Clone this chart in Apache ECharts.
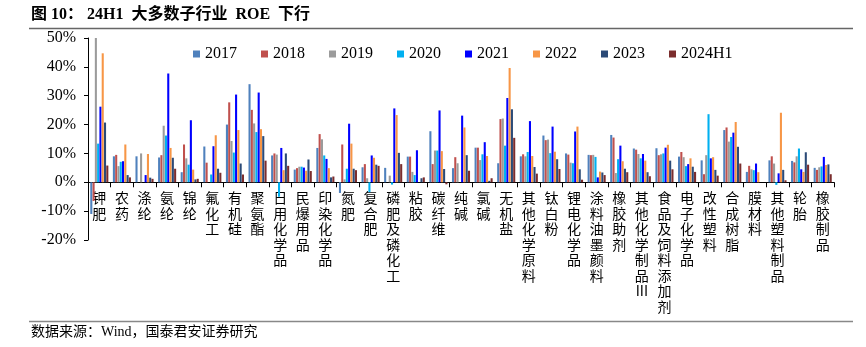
<!DOCTYPE html>
<html><head><meta charset="utf-8">
<script src="https://cdn.jsdelivr.net/npm/echarts@6/dist/echarts.min.js"></script>
<style>html,body{margin:0;padding:0;background:#fff}#c{width:866px;height:347px}</style>
</head><body><div id="c"></div>
<script>
const categories = ['钾肥','农药','涤纶','氨纶','锦纶','氟化工','有机硅','聚氨酯','日用化学品','民爆用品','印染化学品','氮肥','复合肥','磷肥及磷化工','粘胶','碳纤维','纯碱','氯碱','无机盐','其他化学原料','钛白粉','锂电化学品','涂料油墨颜料','橡胶助剂','其他化学制品III','食品及饲料添加剂','电子化学品','改性塑料','合成树脂','膜材料','其他塑料制品','轮胎','橡胶制品'];
const seriesNames = ['2017','2018','2019','2020','2021','2022','2023','2024H1'];
const s2017 = [-11.0, 9.0, 9.0, 8.6, 3.5, 12.4, 20.0, 34.0, 9.3, 4.4, 11.9, -3.7, 5.2, 5.0, 8.9, 17.7, 4.9, 12.0, 6.6, 9.0, 16.2, 10.0, 9.5, 16.4, 11.7, 11.8, 8.9, 7.6, 18.1, 3.6, 7.6, 7.4, 5.0];
const s2018 = [-6.5, 9.5, 0, 9.4, 13.1, 6.8, 27.7, 25.1, 10.0, 4.9, 16.7, 13.1, 6.3, 0, 8.9, 6.3, 8.7, 12.0, 21.9, 9.7, 14.6, 9.6, 9.4, 15.5, 11.3, 9.4, 10.5, 2.8, 19.0, 5.7, 9.0, 6.9, 4.3];
const s2019 = [50.0, 5.6, 10.0, 19.6, 8.3, 0, 14.3, 20.4, 9.6, 5.4, 14.9, 1.0, 1.4, 2.3, 3.6, 11.0, 6.6, 7.7, 22.1, 9.0, 14.8, 6.8, 9.5, 3.2, 9.8, 9.7, 8.7, 9.4, 14.1, 4.5, 6.5, 9.0, 5.2];
const s2020 = [13.4, 7.1, 0, 16.2, 6.1, 2.7, 10.3, 17.4, -5.0, 5.4, 9.3, 4.7, -3.4, -0.8, 2.5, 11.0, 0, 9.7, 12.7, 10.5, 10.1, 6.6, 8.8, 8.0, 8.3, 10.0, 5.6, 23.6, 15.7, 4.2, -0.9, 11.7, 5.5];
const s2021 = [26.2, 7.3, 2.5, 37.7, 21.5, 12.5, 30.4, 31.1, 11.9, 5.1, 8.1, 20.3, 9.3, 25.6, 11.1, 24.9, 23.1, 13.9, 29.2, 21.2, 19.3, 17.6, 1.7, 12.7, 9.8, 12.0, 6.3, 8.3, 17.2, 6.5, 3.1, 4.5, 8.8];
const s2022 = [44.7, 13.1, 9.8, 11.9, 4.4, 16.3, 18.1, 18.4, 4.2, 4.0, 4.9, 13.4, 8.5, 23.3, 0, 10.8, 19.0, 9.1, 39.6, 9.1, 10.6, 19.3, 3.7, 7.3, 7.5, 13.0, 8.3, 8.7, 20.9, 3.5, 24.1, 3.6, 6.0];
const s2023 = [20.7, 2.5, 1.6, 8.5, 1.0, 4.7, 6.5, 16.0, 10.0, 7.9, 1.7, 4.7, 6.1, 10.2, 1.4, 4.6, 9.4, 0.5, 25.3, 5.3, 8.0, 4.5, 3.4, 4.7, 3.5, 7.5, 5.4, 4.3, 12.3, 0, 4.3, 10.4, 6.2];
const s2024H1 = [5.8, 1.7, 1.2, 4.7, 1.2, 3.3, 2.7, 7.5, 5.7, 3.9, 2.0, 4.2, 5.7, 6.3, 1.7, -0.7, 4.0, 1.4, 15.4, 3.0, 4.6, 0.9, 2.5, 3.5, 2.1, 4.5, 3.6, 2.3, 6.5, 0, 0.7, 6.1, 2.8];
const yTicks = {min: -20, max: 50, interval: 10};

const seriesData = [s2017, s2018, s2019, s2020, s2021, s2022, s2023, s2024H1];
const colors = ['#4F81BD','#C0504D','#9B9B9B','#00B0F0','#0000FF','#F79646','#2B4A77','#7B2D2D'];
const serif = '"Liberation Serif", "Times New Roman", "Noto Sans CJK SC", serif';
const cjk = '"Noto Sans CJK SC", "Liberation Serif", sans-serif';

const chart = echarts.init(document.getElementById('c'), null, {renderer: 'canvas'});
chart.setOption({
  animation: false,
  color: colors,
  graphic: [
    {type: 'text', left: 31, top: 7, style: {text: '图 10： 24H1  大多数子行业  ROE  下行', font: 'bold 16px ' + serif, fill: '#000'}},
    {type: 'line', shape: {x1: 29, y1: 28.5, x2: 853, y2: 28.5}, style: {stroke: '#666', lineWidth: 1.5}},
    {type: 'line', shape: {x1: 29, y1: 321.5, x2: 853, y2: 321.5}, style: {stroke: '#888', lineWidth: 1.5}},
    {type: 'text', left: 31, top: 325, style: {text: '数据来源：Wind，国泰君安证券研究', font: '14px ' + serif, fill: '#000'}}
  ],
  legend: {
    left: 193, top: 46, padding: 0, icon: 'rect', itemWidth: 7, itemHeight: 7, itemGap: 24,
    textStyle: {fontSize: 16, fontFamily: serif, color: '#000'},
    data: seriesNames
  },
  grid: {left: 88, right: 32, top: 38, bottom: 107, outerBoundsMode: 'none', containLabel: false},
  xAxis: {
    type: 'category', data: categories,
    axisLine: {onZero: true, lineStyle: {color: '#000', width: 1}},
    axisTick: {show: true, length: 5, lineStyle: {color: '#000'}},
    axisLabel: {
      interval: 0, margin: -50, color: '#000', fontSize: 14, lineHeight: 15.5, fontFamily: cjk,
      formatter: v => (v.match(/III|./g) || []).join('\n')
    }
  },
  yAxis: {
    type: 'value', min: yTicks.min, max: yTicks.max, interval: yTicks.interval,
    axisLine: {show: true, lineStyle: {color: '#000', width: 1}},
    axisTick: {show: true, length: 4, lineStyle: {color: '#000'}},
    splitLine: {show: false},
    axisLabel: {formatter: '{value}%', color: '#000', fontSize: 16, fontFamily: serif, margin: 12}
  },
  series: seriesNames.map((n, i) => ({
    name: n, type: 'bar', data: seriesData[i],
    barCategoryGap: '20%', barGap: '10%'
  }))
});
</script></body></html>
